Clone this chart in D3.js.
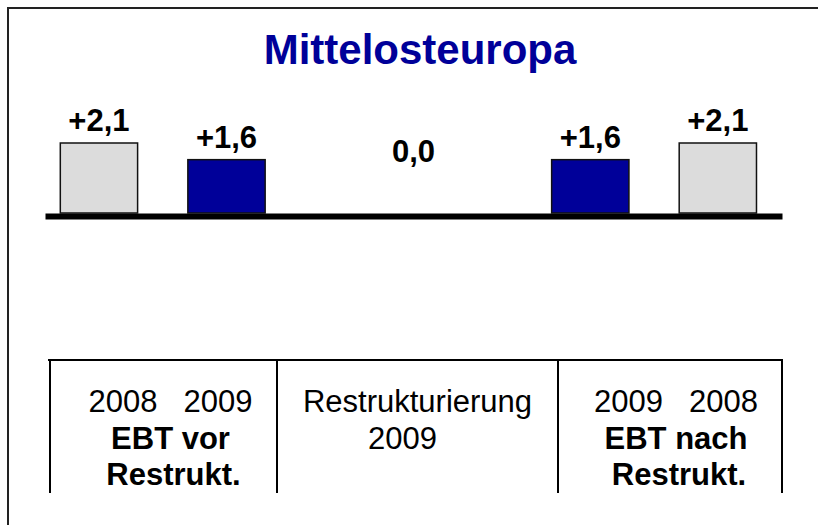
<!DOCTYPE html>
<html lang="de">
<head>
<meta charset="utf-8">
<title>Mittelosteuropa</title>
<script src="https://cdnjs.cloudflare.com/ajax/libs/d3/7.8.5/d3.min.js"></script>
<style>
  body { margin: 0; background: #fff; }
  svg { display: block; font-family: "Liberation Sans", Arial, sans-serif; }
  .axis path { stroke: #000; stroke-width: 6; }
  .axis .tick { display: none; }
</style>
</head>
<body>
<svg id="chart" width="818" height="525"></svg>
<script>
// data
var title = "Mittelosteuropa";
var groups = ["vor", "restr", "nach"];
var barGroup = ["vor", "vor", "restr", "nach", "nach"];
var barYear = ["2008", "2009", "2009", "2009", "2008"];
var barValue = [2.1, 1.6, 0.0, 1.6, 2.1];
var yearLines = ["2008   2009", "Restrukturierung", "2009   2008"];
var groupLines = [["EBT vor", "Restrukt."], ["2009"], ["EBT nach", "Restrukt."]];

var bars = barValue.map(function(v, i) {
  return { group: barGroup[i], year: barYear[i], value: v,
           idx: barGroup.slice(0, i).filter(function(g) { return g == barGroup[i]; }).length };
});

var de = d3.formatLocale({ decimal: ",", thousands: ".", grouping: [3], currency: ["", " €"] });
var fmt = de.format(".1f");
function label(v) { return (v > 0 ? "+" : "") + fmt(v); }

var svg = d3.select("#chart");

// frame (only top and left edges are inside the picture)
svg.append("path")
  .attr("d", "M8,525V8H818")
  .attr("fill", "none")
  .attr("stroke", "#222")
  .attr("stroke-width", 2);

svg.append("text")
  .attr("x", 420).attr("y", 64)
  .attr("text-anchor", "middle")
  .attr("font-size", 42).attr("font-weight", "bold")
  .attr("fill", "#000099")
  .text(title);

var x = d3.scaleBand().domain(groups).range([45, 782]);
var inner = d3.scaleBand().domain([0, 1]).range([0, 1])
  .paddingInner(0.394).paddingOuter(0.16).align(0.375);
var y = d3.scaleLinear().domain([0, 2.1]).range([213, 143]);
var color = d3.scaleOrdinal().domain(["2008", "2009"]).range(["#dcdcdc", "#000099"]);

function count(g) { return barGroup.filter(function(d) { return d == g; }).length; }
function barLeft(d) {
  if (count(d.group) < 2) return x(d.group) + x.bandwidth() / 2 - inner.bandwidth() * x.bandwidth() / 2;
  return x(d.group) + inner(d.idx) * x.bandwidth();
}
var bw = inner.bandwidth() * x.bandwidth();

svg.append("g")
  .selectAll("rect")
  .data(bars.filter(function(d) { return d.value > 0; }))
  .enter()
  .append("rect")
  .attr("x", barLeft)
  .attr("y", function(d) { return y(d.value); })
  .attr("width", bw)
  .attr("height", function(d) { return y(0) - y(d.value); })
  .attr("fill", function(d) { return color(d.year); })
  .attr("stroke", "#111")
  .attr("stroke-width", 1.5);

svg.append("g")
  .selectAll("text")
  .data(bars)
  .enter()
  .append("text")
  .attr("x", function(d) { return barLeft(d) + bw / 2; })
  .attr("y", function(d) { return Math.min(y(d.value) - 12, 162); })
  .attr("text-anchor", "middle")
  .attr("font-size", 31).attr("font-weight", "bold")
  .attr("fill", "#000")
  .text(function(d) { return label(d.value); });

svg.append("g")
  .attr("class", "axis")
  .attr("transform", "translate(0," + (y(0) + 3) + ")")
  .call(d3.axisBottom(x).tickSize(0).tickFormat(""));

// table below the chart
var cols = [50, 277, 558, 782];
var tTop = 360, tBottom = 493;
var table = svg.append("g").attr("stroke", "#000").attr("stroke-width", 2);
table.append("line").attr("x1", 48).attr("x2", 783).attr("y1", tTop).attr("y2", tTop);
table.selectAll("line.v")
  .data(cols)
  .enter()
  .append("line")
  .attr("class", "v")
  .attr("x1", function(d) { return d; }).attr("x2", function(d) { return d; })
  .attr("y1", tTop).attr("y2", tBottom);

var shift = [7, 0, 6];
var colText = svg.append("g").attr("font-size", 31).attr("fill", "#000");
yearLines.forEach(function(t, i) {
  var cx = (cols[i] + cols[i + 1]) / 2 + shift[i];
  colText.append("text")
    .attr("x", cx).attr("y", 412)
    .attr("text-anchor", "middle")
    .style("white-space", "pre")
    .text(t);
  groupLines[i].forEach(function(s, j) {
    colText.append("text")
      .attr("x", i == 1 ? cx - 15 : cx + (j == 1 ? 3 : 0))
      .attr("y", 449 + j * 36)
      .attr("text-anchor", "middle")
      .attr("font-weight", i == 1 ? "normal" : "bold")
      .text(s);
  });
});
</script>
</body>
</html>
